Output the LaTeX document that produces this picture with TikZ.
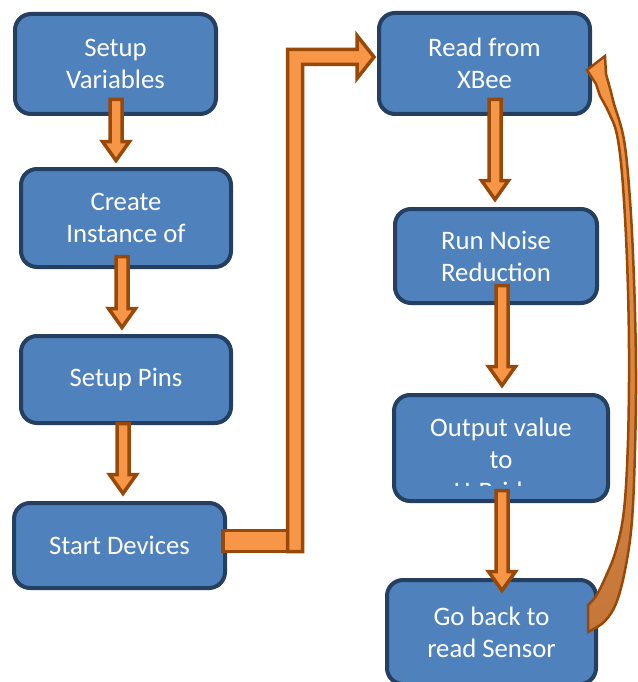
\documentclass[tikz,border=0pt]{standalone}
\usepackage{fontspec}
\setmainfont{Carlito}
\usetikzlibrary{calc}
\definecolor{boxfill}{HTML}{4F81BD}
\definecolor{boxline}{HTML}{243F60}
\definecolor{arrfill}{HTML}{F79646}
\definecolor{arrdark}{HTML}{C4773A}
\definecolor{arrline}{HTML}{984807}

\tikzset{
  boxtext/.style={text=white, align=center, inner sep=0pt,
    font=\fontsize{26.7}{32}\selectfont},
  flowbox/.style={boxtext, draw=boxline, fill=boxfill, line width=4pt,
    rounded corners=16pt},
  blockarrow/.style={draw=arrline, fill=arrfill, line width=3.5pt, line join=miter},
}

% downward block arrow: #1 = top of the shaft, #2 = tip (only its y is used)
\newcommand\downblock[2]{%
  \path[blockarrow] let \p1=#1, \p2=#2 in
    (\x1-6pt,\y1) -- (\x1+6pt,\y1) -- (\x1+6pt,\y2+19pt) -- (\x1+13.5pt,\y2+19pt)
    -- (\x1,\y2) -- (\x1-13.5pt,\y2+19pt) -- (\x1-6pt,\y2+19pt) -- cycle;}

\begin{document}
\begin{tikzpicture}[x=1pt,y=-1pt]
\useasboundingbox (0,0) rectangle (637,682);

% left column
\node[flowbox, minimum width=201pt, minimum height=100pt] (A) at (115.5,64) {Setup\\Variables};
\node[flowbox, minimum width=210pt, minimum height=98pt] (B) at (126,218) {Create\\Instance of};
\node[flowbox, minimum width=210pt, minimum height=87pt] (C) at (126,379.5) {Setup Pins};
\node[flowbox, minimum width=211pt, minimum height=85pt] (D) at (119.5,545.5) {Start Devices};

% right column
\node[flowbox, minimum width=211pt, minimum height=101pt] (E) at (484.5,63.5) {Read from\\XBee};
\node[flowbox, minimum width=202pt, minimum height=94pt] (F) at (496,256) {Run Noise\\Reduction};
\node[flowbox, minimum width=214pt, minimum height=106pt] (G) at (501,448) {};
\begin{scope}
  \clip ([yshift=18pt]G.south west) rectangle (G.north east);
  \node[boxtext] (Gtext) at ([yshift=-14pt]G.center) {Output value\\to\\H-Bridge};
\end{scope}
\node[flowbox, minimum width=209pt, minimum height=104pt] (H) at (491.5,632) {Go back to\\read Sensor};

% straight connectors
\downblock{([xshift=0.5pt,yshift=16.5pt]A.south)}{([yshift=6.5pt]B.north)}
\downblock{([xshift=-4pt,yshift=12.5pt]B.south)}{([yshift=6.5pt]C.north)}
\downblock{([xshift=-3pt,yshift=1.5pt]C.south)}{([yshift=7.5pt]D.north)}
\downblock{([xshift=10.5pt,yshift=16.5pt]E.south)}{([yshift=7.5pt]F.north)}
\downblock{([xshift=6pt,yshift=19.5pt]F.south)}{([yshift=7.5pt]G.north)}
\downblock{([xshift=1pt,yshift=12.5pt]G.south)}{([yshift=-12.5pt]H.north)}

% elbow connector from Start Devices up to Read from XBee
\path[blockarrow] let \p1=([xshift=-4pt,yshift=4.5pt]D.east) in
  (\x1,\y1-10.5pt) rectangle (\x1+67pt,\y1+10.5pt);
\path[blockarrow] let \p1=([xshift=-4pt,yshift=4.5pt]D.east),
                      \p2=([xshift=-3pt,yshift=6.5pt]E.west) in
  (\x1+64.5pt,\y1-10.5pt) -- (\x1+64.5pt,\y2+7.5pt) -- (\x2-17pt,\y2+7.5pt)
  -- (\x2-17pt,\y2+21.5pt) -- (\x2,\y2) -- (\x2-17pt,\y2-21.5pt)
  -- (\x2-17pt,\y2-7.5pt) -- (\x1+79.5pt,\y2-7.5pt) -- (\x1+79.5pt,\y1-10.5pt) -- cycle;

% curved return arrow from Go back to read Sensor to Read from XBee
\path[blockarrow, line width=2.5pt, top color=arrfill, bottom color=arrdark]
  plot[smooth, tension=0.6] coordinates {(588,632) (605,621) (617,601) (626,565)
    (632,520) (635,450) (636,370) (634,280) (630,200) (624,140) (614,104) (611,92)}
  -- (606,74) -- (605,56) -- (587,70) -- (596,84)
  -- plot[smooth, tension=0.6] coordinates {(600,96) (609,113) (617,135) (622.5,180)
    (627,260) (629,350) (628,440) (624,510) (616,550) (606,576) (596,596) (588,605)}
  -- cycle;
\end{tikzpicture}
\end{document}
